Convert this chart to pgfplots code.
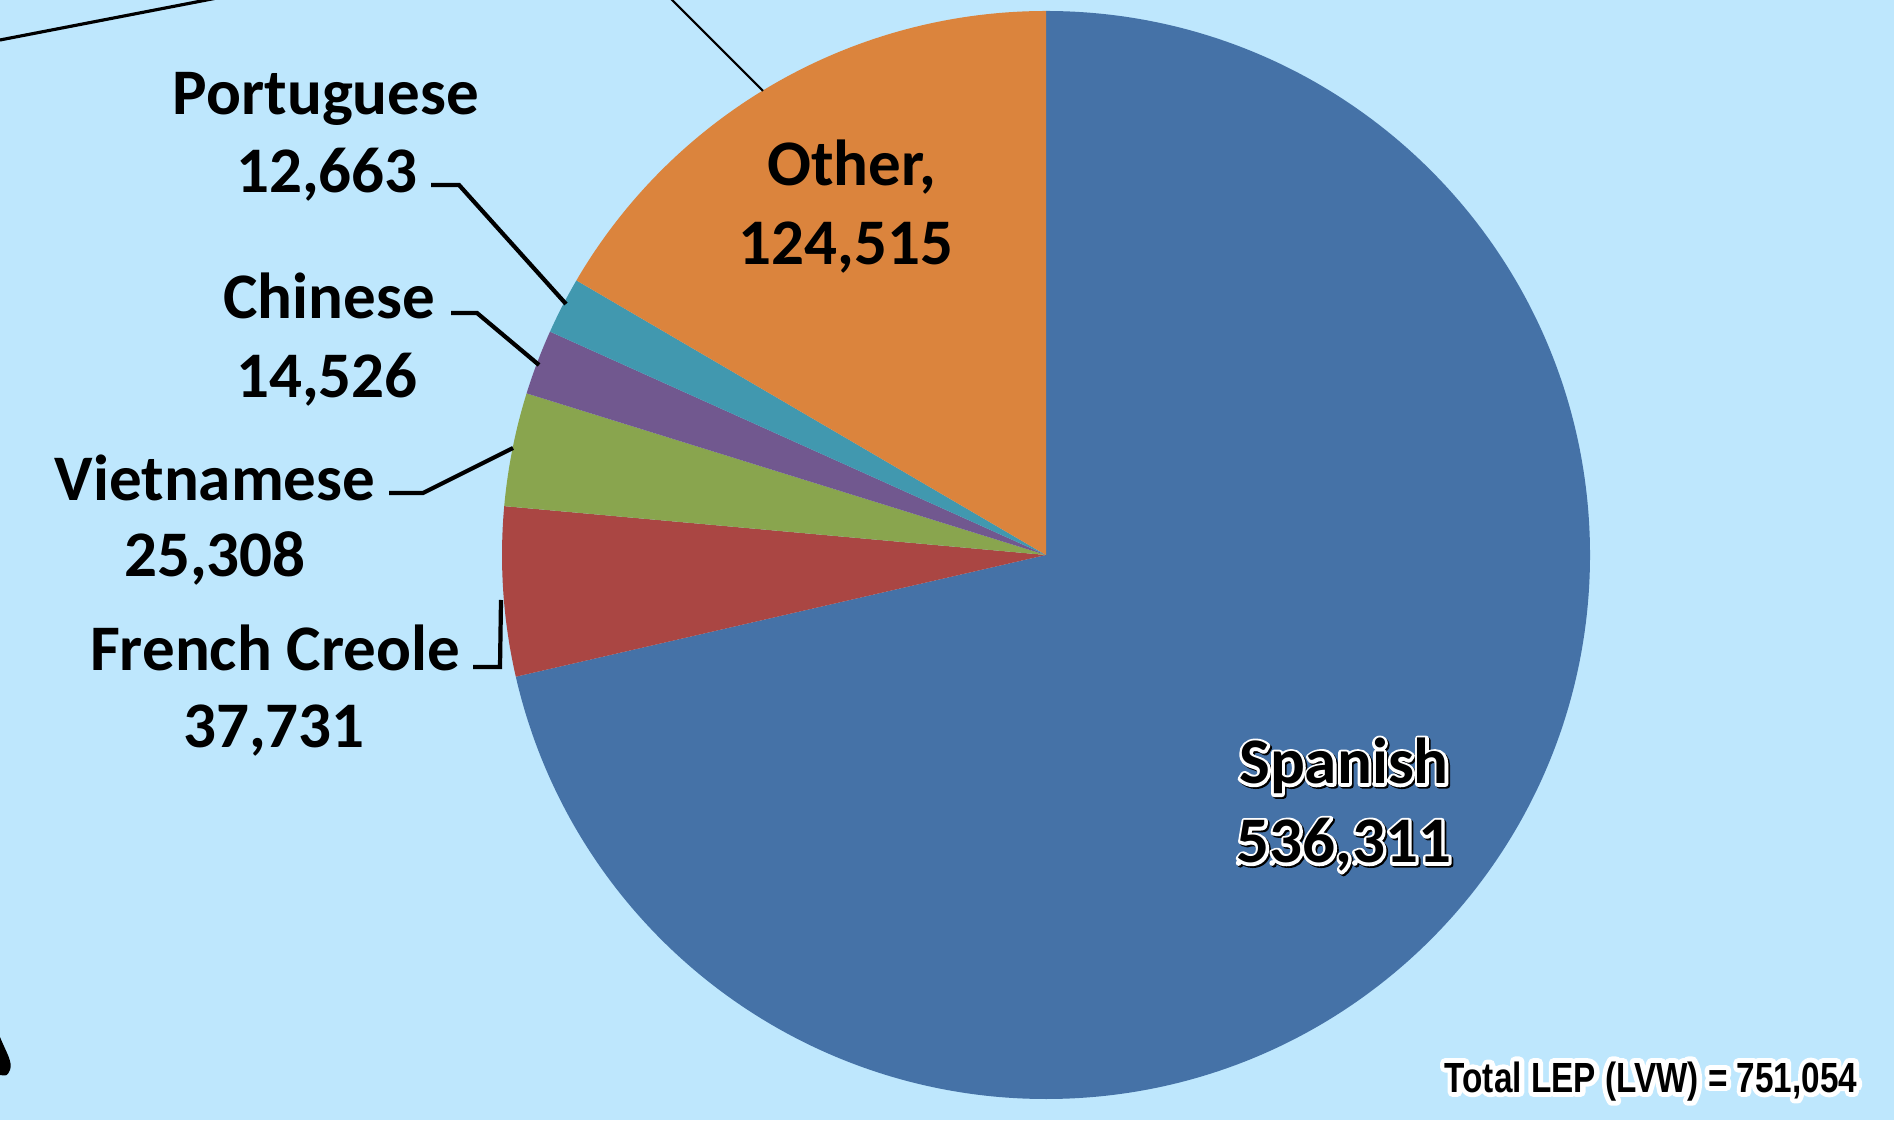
\documentclass[border=0pt]{standalone}
\usepackage{pgfplots}
\pgfplotsset{compat=1.18}
\usepackage{fontspec}
\setmainfont{Carlito}
\newfontfamily\narrowfont[FakeStretch=0.79]{Liberation Sans}

\definecolor{bgblue}{RGB}{190,231,253}
\definecolor{cSpanish}{RGB}{69,114,167}
\definecolor{cFrench}{RGB}{170,70,67}
\definecolor{cViet}{RGB}{137,165,78}
\definecolor{cChinese}{RGB}{113,88,143}
\definecolor{cPort}{RGB}{65,152,175}
\definecolor{cOther}{RGB}{219,132,61}

% data (LEP speakers by language)
\def\vSpanish{536311}
\def\vFrench{37731}
\def\vViet{25308}
\def\vChinese{14526}
\def\vPort{12663}
\def\vOther{124515}
\edef\vTotal{\fpeval{\vSpanish+\vFrench+\vViet+\vChinese+\vPort+\vOther}}
\edef\aA{90}
\edef\aB{\fpeval{\aA-360*\vSpanish/\vTotal}}
\edef\aC{\fpeval{\aB-360*\vFrench/\vTotal}}
\edef\aD{\fpeval{\aC-360*\vViet/\vTotal}}
\edef\aE{\fpeval{\aD-360*\vChinese/\vTotal}}
\edef\aF{\fpeval{\aE-360*\vPort/\vTotal}}
\edef\aG{\fpeval{\aF-360*\vOther/\vTotal}}
\def\R{5.44cm}
\newcommand\lab{\fontsize{18.5}{22}\selectfont\bfseries}
% #1 stroke colour (pdf RG), #2 stroke width, #3 text: stroked copy below filled copy
\newcommand\outlined[3]{\leavevmode\rlap{\special{pdf:code 1 Tr #2 w 1 j 1 J #1 RG}#3\special{pdf:code 0 Tr 0.3985 w 0 G}}#3}
\newcommand\shadowed[3]{\leavevmode\special{pdf:code 2 Tr #2 w 1 j 1 J #1 RG}#3\special{pdf:code 0 Tr 0.3985 w 0 G}}

\begin{document}
\begin{tikzpicture}
\begin{axis}[hide axis, scale only axis, width=18.94cm, height=11.2cm,
  xmin=0, xmax=1894, ymin=0, ymax=1120, at={(0,0)}, anchor=south west, clip=true]
\addplot[draw=none] coordinates {(0,0) (1894,1120)};
\fill[bgblue] (axis cs:0,0) rectangle (axis cs:1894,1120);
% pie slices
\fill[cSpanish] (axis cs:1046,565) -- ++(\aA:\R) arc[start angle=\aA, end angle=\aB, radius=\R] -- cycle;
\fill[cFrench] (axis cs:1046,565) -- ++(\aB:\R) arc[start angle=\aB, end angle=\aC, radius=\R] -- cycle;
\fill[cViet] (axis cs:1046,565) -- ++(\aC:\R) arc[start angle=\aC, end angle=\aD, radius=\R] -- cycle;
\fill[cChinese] (axis cs:1046,565) -- ++(\aD:\R) arc[start angle=\aD, end angle=\aE, radius=\R] -- cycle;
\fill[cPort] (axis cs:1046,565) -- ++(\aE:\R) arc[start angle=\aE, end angle=\aF, radius=\R] -- cycle;
\fill[cOther] (axis cs:1046,565) -- ++(\aF:\R) arc[start angle=\aF, end angle=\aG, radius=\R] -- cycle;
% stray lines from the source image
\draw[line width=0.9pt] (axis cs:0,1080) -- (axis cs:217,1122);
\draw[line width=0.6pt] (axis cs:670,1122) -- (axis cs:763,1029);
\fill (axis cs:0,83) .. controls (axis cs:6,68) and (axis cs:13,58) .. (axis cs:10,50) .. controls (axis cs:7,44) .. (axis cs:0,45) -- cycle;
% leader lines
\draw[line width=1.2pt] (axis cs:431,935) -- (axis cs:459,935) -- (axis cs:566,816);
\draw[line width=1.2pt] (axis cs:451,807) -- (axis cs:477,807) -- (axis cs:539,755);
\draw[line width=1.2pt] (axis cs:389,627) -- (axis cs:423,627) -- (axis cs:513,672);
\draw[line width=1.2pt] (axis cs:473,453) -- (axis cs:500,453) -- (axis cs:501,520);
% labels
\node[anchor=base, font=\lab] at (axis cs:326,1005) {Portuguese};
\node[anchor=base, font=\lab] at (axis cs:327,927) {12,663};
\node[anchor=base, font=\lab] at (axis cs:329,801) {Chinese};
\node[anchor=base, font=\lab] at (axis cs:327,722) {14,526};
\node[anchor=base, font=\lab] at (axis cs:215,619) {Vietnamese};
\node[anchor=base, font=\lab] at (axis cs:215,543) {25,308};
\node[anchor=base, font=\lab] at (axis cs:275,449) {French Creole};
\node[anchor=base, font=\lab] at (axis cs:274,372) {37,731};
\node[anchor=base, font=\lab] at (axis cs:852,934) {Other,};
\node[anchor=base, font=\lab] at (axis cs:846,855) {124,515};
% Spanish with white outline and dark shadow
\node[anchor=base, font=\lab, align=center] at (axis cs:1344,336) {\shadowed{0 0 0}{1.6}{\rlap{\kern0.5pt\raisebox{-0.5pt}{Spanish}}}\outlined{1 1 1}{1.6}{Spanish}};
\node[anchor=base, font=\lab] at (axis cs:1344,257) {\shadowed{0 0 0}{1.6}{\rlap{\kern0.5pt\raisebox{-0.5pt}{536,311}}}\outlined{1 1 1}{1.6}{536,311}};
% total
\node[anchor=base east, font=\narrowfont\bfseries\fontsize{12}{14}\selectfont, inner sep=0pt] at (axis cs:1858,28) {\outlined{1 1 1}{2.8}{Total LEP (LVW) = 751,054}};
\end{axis}
\pgfresetboundingbox
\path[use as bounding box] (0,0) rectangle (18.94cm,11.2cm);
\end{tikzpicture}
\end{document}
